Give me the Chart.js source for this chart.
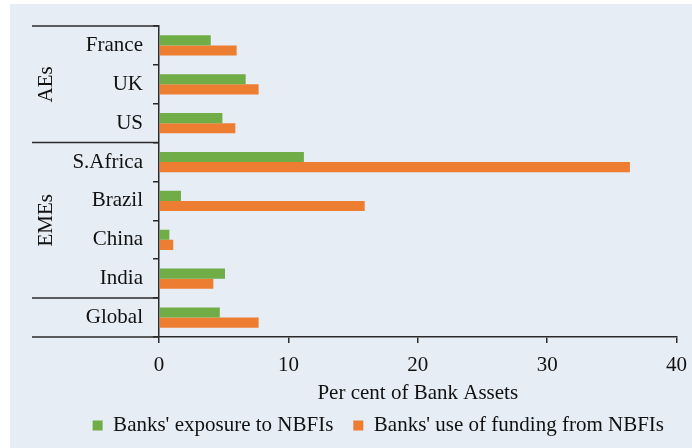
<!DOCTYPE html>
<html>
<head>
<meta charset="utf-8">
<script src="https://cdn.jsdelivr.net/npm/chart.js@4.4.0/dist/chart.umd.min.js"></script>
<style>
  html, body { margin: 0; padding: 0; background: #fff; }
  #wrap { width: 692px; height: 448px; }
</style>
</head>
<body>
<div id="wrap"><canvas id="myChart" width="692" height="448"></canvas></div>
<script>
var ctx = document.getElementById('myChart');

// data
var Countries = ['France', 'UK', 'US', 'S.Africa', 'Brazil', 'China', 'India', 'Global'];
var Exposure = [4.0, 6.7, 4.9, 11.2, 1.7, 0.8, 5.1, 4.7];
var Funding = [6.0, 7.7, 5.9, 36.4, 15.9, 1.1, 4.2, 7.7];
var XTicks = [0, 10, 20, 30, 40];
var Groups = [
  { name: 'AEs', first: 0, last: 2 },
  { name: 'EMEs', first: 3, last: 6 }
];

var serif = '"Liberation Serif", "DejaVu Serif", serif';
var ink = '#111';

// background panel, group separators and rotated group names
var groupPlugin = {
  id: 'groups',
  beforeDraw: function(chart) {
    var c = chart.ctx;
    c.save();
    c.fillStyle = '#e6edf4';
    c.fillRect(10, 4, chart.width - 10, chart.height - 4);
    c.restore();
  },
  afterDraw: function(chart) {
    var c = chart.ctx;
    var y = chart.scales.y;
    var area = chart.chartArea;
    var left = 32;
    var edge = function(i) {
      if (i < 0) return area.top;
      if (i >= Countries.length - 1) return area.bottom;
      return (y.getPixelForValue(i) + y.getPixelForValue(i + 1)) / 2;
    };
    var lines = [area.top];
    Groups.forEach(function(g) { lines.push(edge(g.last)); });
    lines.push(area.bottom);
    c.save();
    c.strokeStyle = '#2a2a2a';
    c.lineWidth = 1.5;
    lines.forEach(function(py) {
      c.beginPath();
      c.moveTo(left, py);
      c.lineTo(area.left, py);
      c.stroke();
    });
    c.fillStyle = ink;
    c.font = '21px ' + serif;
    c.textAlign = 'center';
    c.textBaseline = 'middle';
    Groups.forEach(function(g) {
      var mid = (edge(g.first - 1) + edge(g.last)) / 2;
      c.save();
      c.translate(46, mid);
      c.rotate(-Math.PI / 2);
      c.fillText(g.name, 0, 0);
      c.restore();
    });
    c.restore();
  }
};

var myChart = new Chart(ctx, {
  type: 'bar',
  data: {
    labels: Countries,
    datasets: [{
      label: "Banks' exposure to NBFIs",
      backgroundColor: '#70ad47',
      data: Exposure
    }, {
      label: "Banks' use of funding from NBFIs",
      backgroundColor: '#ed7d31',
      data: Funding
    }]
  },
  options: {
    responsive: false,
    animation: false,
    indexAxis: 'y',
    layout: { padding: { top: 26, left: 32, right: 8, bottom: 2 } },
    datasets: { bar: { barPercentage: 1, categoryPercentage: 0.52 } },
    scales: {
      y: {
        afterFit: function(scale) { scale.width = 159 - 32; },
        grid: { drawOnChartArea: false, tickLength: 6, color: '#2a2a2a', lineWidth: 1.5 },
        border: { color: '#2a2a2a', width: 1.5 },
        ticks: { color: ink, padding: 10, font: { family: serif, size: 21 } }
      },
      x: {
        min: 0,
        max: 40,
        afterBuildTicks: function(scale) {
          scale.ticks = XTicks.map(function(v) { return { value: v }; });
        },
        grid: { drawOnChartArea: false, tickLength: 6, color: '#2a2a2a', lineWidth: 1.5 },
        border: { color: '#2a2a2a', width: 1.5 },
        ticks: { color: ink, padding: 5, font: { family: serif, size: 21, lineHeight: 1.62 } },
        title: {
          display: true,
          text: 'Per cent of Bank Assets',
          color: ink,
          padding: { top: -6.2, bottom: -11 },
          font: { family: serif, size: 21 }
        }
      }
    },
    plugins: {
      legend: {
        position: 'bottom',
        align: 'end',
        labels: {
          color: ink,
          boxWidth: 10,
          boxHeight: 10,
          padding: 20,
          font: { family: serif, size: 21 }
        }
      },
      tooltip: { enabled: false }
    }
  },
  plugins: [groupPlugin]
});
</script>
</body>
</html>
